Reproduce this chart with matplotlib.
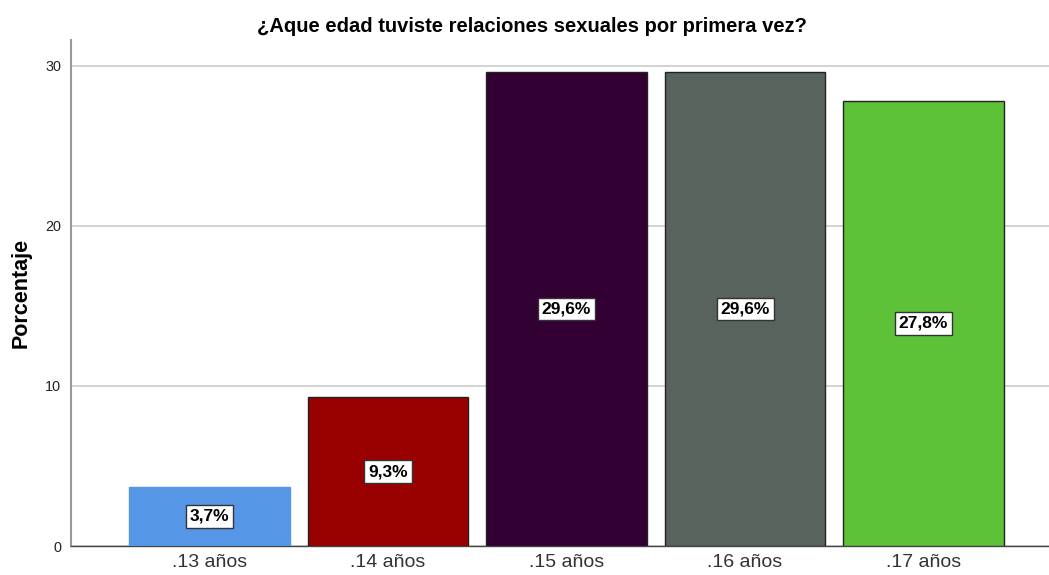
import matplotlib.pyplot as plt

plt.rcParams['font.family'] = ['Liberation Sans', 'DejaVu Sans']

# Data
categories = ['.13 años', '.14 años', '.15 años', '.16 años', '.17 años']
percentages = [3.7, 9.3, 29.6, 29.6, 27.8]
labels = ['3,7%', '9,3%', '29,6%', '29,6%', '27,8%']
colors = ['#5596E6', '#990000', '#330033', '#59635D', '#5DC238']
edges = ['#5596E6', '#222222', '#222222', '#222222', '#222222']

fig = plt.figure(figsize=(10.49, 5.75), dpi=100)
ax = fig.add_axes([71 / 1049, 29 / 575, 978 / 1049, 506 / 575])

x = list(range(len(categories)))
bars = ax.bar(x, percentages, width=0.9, color=colors, edgecolor=edges,
              linewidth=1.0, zorder=3)

# value labels in the middle of each bar
for xi, val, lab in zip(x, percentages, labels):
    ax.text(xi, val / 2, lab, ha='center', va='center', fontsize=12.5,
            fontweight='bold', color='black', zorder=4,
            bbox=dict(boxstyle='square,pad=0.22', facecolor='white',
                      edgecolor='#333333', linewidth=1))

ax.set_xlim(-0.776, 4.703)
ax.set_ylim(0, 31.6)
ax.set_yticks([0, 10, 20, 30])
ax.set_xticks(x)
ax.set_xticklabels(categories, fontsize=14, color='#333333')
ax.tick_params(axis='y', labelsize=10.4, colors='#222222', length=0, pad=7)
ax.tick_params(axis='x', length=0, pad=6)

ax.yaxis.grid(True, color='#CCCCCC', linewidth=1.2, zorder=0)
ax.set_axisbelow(True)

ax.spines['top'].set_visible(False)
ax.spines['right'].set_visible(False)
ax.spines['left'].set_color('#999999')
ax.spines['left'].set_linewidth(1.5)
ax.spines['bottom'].set_color('#444444')
ax.spines['bottom'].set_linewidth(1.0)

ax.set_ylabel('Porcentaje', fontsize=15.5, fontweight='bold', labelpad=10)
fig.text(0.507, 1 - 26 / 575, '¿Aque edad tuviste relaciones sexuales por primera vez?',
         ha='center', va='center', fontsize=14.5, fontweight='bold')

fig.savefig('out.png', dpi=100)
